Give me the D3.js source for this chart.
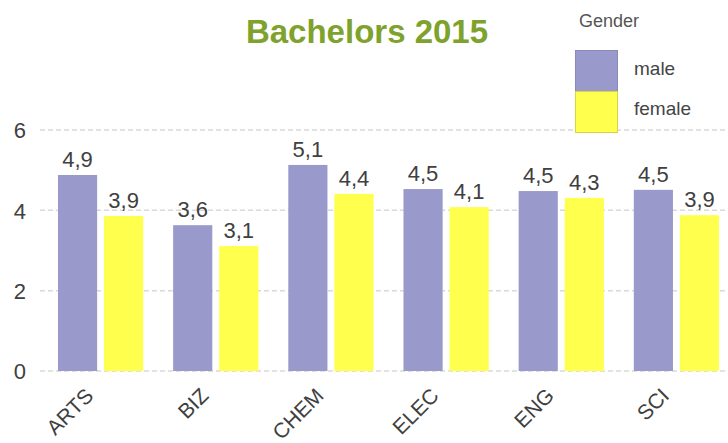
<!DOCTYPE html>
<html>
<head>
<meta charset="utf-8">
<script src="https://cdn.jsdelivr.net/npm/d3@7"></script>
<style>
  body { margin: 0; background: #fff; }
  text { font-family: "Liberation Sans", Arial, sans-serif; }
</style>
</head>
<body>
<div id="chart"></div>
<script>
//Chart Data
let categories = ["ARTS", "BIZ", "CHEM", "ELEC", "ENG", "SCI"];
let genders = ["male", "female"];
let maleValues = [4.88, 3.63, 5.13, 4.53, 4.48, 4.51];
let femaleValues = [3.86, 3.11, 4.41, 4.08, 4.31, 3.88];
let yTicks = [0, 2, 4, 6];
let colors = { male: "#9999cc", female: "#ffff4d" };
let strokes = { male: "#8a8ab8", female: "#d6d640" };

let svgWidth = 728;
let svgHeight = 443;

let svg = d3.select("#chart")
  .append("svg")
  .attr("width", svgWidth)
  .attr("height", svgHeight);

//Scales
let x0 = d3.scaleBand()
  .domain(categories)
  .range([43, 734])
  .paddingInner(0.26)
  .paddingOuter(0.13);

let x1 = d3.scaleBand()
  .domain(genders)
  .range([0, x0.bandwidth()])
  .paddingInner(0.15);

let y = d3.scaleLinear()
  .domain([0, 6])
  .range([371, 130]);

//Gridlines
svg.append("g")
  .selectAll("line")
  .data(yTicks)
  .enter()
  .append("line")
  .attr("x1", 40)
  .attr("x2", svgWidth)
  .attr("y1", d => y(d))
  .attr("y2", d => y(d))
  .attr("stroke", "#d9d9d9")
  .attr("stroke-width", 1.5)
  .attr("stroke-dasharray", "5,3");

//Y Axis
let leftAxis = d3.axisLeft(y)
  .tickValues(yTicks)
  .tickFormat(d3.format("d"))
  .tickSize(0)
  .tickPadding(0);
let yAxis = svg.append("g")
  .attr("transform", "translate(26, 0)")
  .call(leftAxis);
yAxis.select(".domain").remove();
yAxis.selectAll("text")
  .style("font-size", "22px")
  .style("font-family", "'Liberation Sans', Arial, sans-serif")
  .attr("fill", "#404040")
  .attr("dy", "0.36em");

//Bars
let rows = categories.map((c, i) => ({ cat: c, male: maleValues[i], female: femaleValues[i] }));

let groups = svg.selectAll(".group")
  .data(rows)
  .enter()
  .append("g")
  .attr("transform", d => `translate(${x0(d.cat)}, 0)`);

groups.selectAll("rect")
  .data(d => genders.map(g => ({ g: g, v: d[g] })))
  .enter()
  .append("rect")
  .attr("x", d => x1(d.g))
  .attr("y", d => y(d.v))
  .attr("width", x1.bandwidth())
  .attr("height", d => y(0) - y(d.v))
  .attr("fill", d => colors[d.g]);

//Value Labels
groups.selectAll(".val")
  .data(d => genders.map(g => ({ g: g, v: d[g] })))
  .enter()
  .append("text")
  .attr("x", d => x1(d.g) + x1.bandwidth() / 2)
  .attr("y", d => y(d.v) - 8)
  .style("font-size", "22px")
  .style("text-anchor", "middle")
  .attr("fill", "#404040")
  .text(d => d.v.toFixed(1).replace(".", ","));

//X Axis Labels
svg.append("g")
  .selectAll("text")
  .data(categories)
  .enter()
  .append("text")
  .attr("transform", d => `translate(${x0(d) + x0.bandwidth() / 2 - 6}, 397) rotate(-45)`)
  .style("font-size", "21px")
  .style("text-anchor", "end")
  .attr("fill", "#404040")
  .text(d => d);

//Title
svg.append("text")
  .attr("x", 367)
  .attr("y", 43)
  .style("font-size", "33px")
  .style("font-weight", "bold")
  .style("text-anchor", "middle")
  .attr("fill", "#7ea22c")
  .text("Bachelors 2015");

//Legend
let legend = svg.append("g");
legend.append("text")
  .attr("x", 579)
  .attr("y", 27)
  .style("font-size", "18px")
  .attr("fill", "#555555")
  .text("Gender");

legend.selectAll("rect")
  .data(genders)
  .enter()
  .append("rect")
  .attr("x", 575.5)
  .attr("y", (d, i) => 50.5 + i * 41)
  .attr("width", 42)
  .attr("height", 41)
  .attr("fill", d => colors[d])
  .attr("stroke", d => strokes[d])
  .attr("stroke-width", 1);

legend.selectAll(".lab")
  .data(genders)
  .enter()
  .append("text")
  .attr("x", 634)
  .attr("y", (d, i) => 75 + i * 40)
  .style("font-size", "19px")
  .attr("fill", "#444444")
  .text(d => d);
</script>
</body>
</html>
